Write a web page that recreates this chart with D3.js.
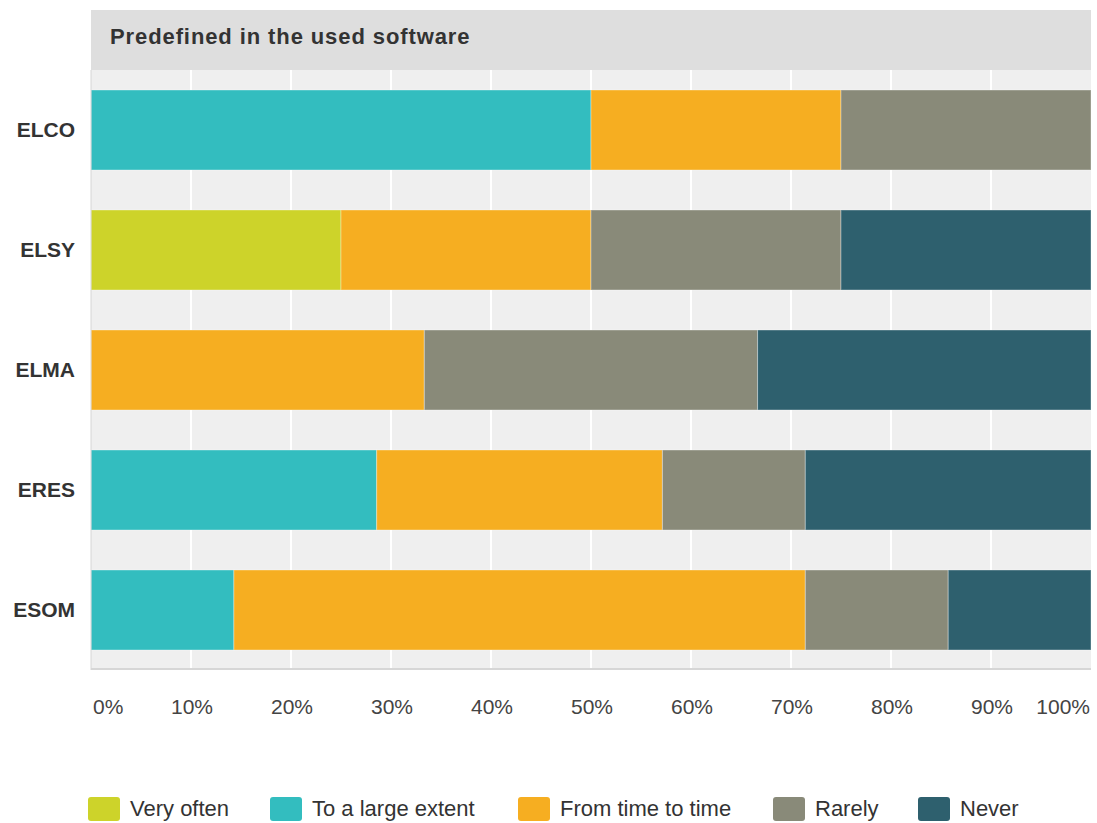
<!DOCTYPE html>
<html lang="en">
<head>
    <meta charset="UTF-8">
    <title>Predefined in the used software</title>
    <script src="https://d3js.org/d3.v7.min.js"></script>
    <style>
        body { margin: 0; background: #fff; font-family: "Liberation Sans", Arial, sans-serif; }
        .cat { font-weight: bold; font-size: 21px; fill: #333; }
        .tick-label { font-size: 21px; fill: #444; }
        .legend-label { font-size: 22px; fill: #333; }
    </style>
</head>
<body>
    <div id="chart"></div>
    <script>
        // data
        const categories = ["ELCO", "ELSY", "ELMA", "ERES", "ESOM"];
        const seriesNames = ["Very often", "To a large extent", "From time to time", "Rarely", "Never"];
        const seriesColors = ["#cdd32a", "#33bdbf", "#f6ae21", "#898a79", "#2e606e"];
        const veryOften     = [0, 25, 0, 0, 0];
        const largeExtent   = [50, 0, 0, 28.57, 14.29];
        const timeToTime    = [25, 25, 33.33, 28.57, 57.14];
        const rarely        = [25, 25, 33.33, 14.29, 14.29];
        const never         = [0, 25, 33.34, 28.57, 14.28];
        const tickValues = [0, 10, 20, 30, 40, 50, 60, 70, 80, 90, 100];

        const width = 1097, height = 823;
        const plotLeft = 91, plotRight = 1091, plotTop = 70, plotBottom = 670;

        const svg = d3.select("#chart").append("svg")
            .attr("width", width)
            .attr("height", height);

        const x = d3.scaleLinear().domain([0, 100]).range([plotLeft, plotRight]);
        const y = d3.scaleBand().domain(categories).range([plotTop, plotBottom])
            .paddingInner(1 / 3).paddingOuter(1 / 6);

        // title strip
        svg.append("rect")
            .attr("x", plotLeft).attr("y", 10)
            .attr("width", plotRight - plotLeft).attr("height", plotTop - 10)
            .attr("fill", "#dedede");
        svg.append("text")
            .attr("x", 110).attr("y", 44)
            .attr("font-weight", "bold").attr("font-size", 22)
            .attr("letter-spacing", 0.9)
            .attr("fill", "#333")
            .text("Predefined in the used software");

        // plot background + grid
        svg.append("rect")
            .attr("x", plotLeft).attr("y", plotTop)
            .attr("width", plotRight - plotLeft).attr("height", plotBottom - plotTop - 2)
            .attr("fill", "#efefef");
        svg.append("g").selectAll("line")
            .data(tickValues.slice(1, -1))
            .join("line")
            .attr("x1", d => x(d)).attr("x2", d => x(d))
            .attr("y1", plotTop).attr("y2", plotBottom - 2)
            .attr("stroke", "#fff").attr("stroke-width", 2);

        // stack
        const rows = categories.map((c, i) => ({
            cat: c,
            "Very often": veryOften[i],
            "To a large extent": largeExtent[i],
            "From time to time": timeToTime[i],
            "Rarely": rarely[i],
            "Never": never[i]
        }));
        const stacked = d3.stack().keys(seriesNames)(rows);
        const color = d3.scaleOrdinal().domain(seriesNames).range(seriesColors);

        svg.append("g").selectAll("g")
            .data(stacked)
            .join("g")
            .attr("fill", d => color(d.key))
            .selectAll("rect")
            .data(d => d.filter(s => s[1] - s[0] > 0))
            .join("rect")
            .attr("x", d => x(d[0]))
            .attr("y", d => y(d.data.cat))
            .attr("width", d => x(d[1]) - x(d[0]))
            .attr("height", y.bandwidth())
            .attr("stroke", "rgba(255,255,255,0.35)")
            .attr("stroke-width", 1);

        // axis lines
        svg.append("line")
            .attr("x1", plotLeft).attr("x2", plotRight)
            .attr("y1", plotBottom - 1).attr("y2", plotBottom - 1)
            .attr("stroke", "#d6d6d6").attr("stroke-width", 2);
        svg.append("line")
            .attr("x1", plotLeft).attr("x2", plotLeft)
            .attr("y1", plotTop).attr("y2", plotBottom)
            .attr("stroke", "#d6d6d6").attr("stroke-width", 1);

        // category labels
        svg.append("g").selectAll("text")
            .data(categories)
            .join("text")
            .attr("class", "cat")
            .attr("x", 75)
            .attr("y", d => y(d) + y.bandwidth() / 2)
            .attr("dy", "0.35em")
            .attr("text-anchor", "end")
            .text(d => d);

        // x tick labels
        svg.append("g").selectAll("text")
            .data(tickValues)
            .join("text")
            .attr("class", "tick-label")
            .attr("x", d => d === 0 ? x(d) + 2 : d === 100 ? x(d) - 1 : x(d) + 1)
            .attr("y", 714)
            .attr("text-anchor", d => d === 0 ? "start" : d === 100 ? "end" : "middle")
            .text(d => d + "%");

        // legend
        const legendX = [88, 270, 518, 773, 918];
        const legend = svg.append("g").selectAll("g")
            .data(seriesNames)
            .join("g")
            .attr("transform", (d, i) => `translate(${legendX[i]},797)`);
        legend.append("rect")
            .attr("width", 32).attr("height", 24)
            .attr("rx", 3)
            .attr("fill", d => color(d));
        legend.append("text")
            .attr("class", "legend-label")
            .attr("x", 42).attr("y", 19)
            .text(d => d);
    </script>
</body>
</html>
